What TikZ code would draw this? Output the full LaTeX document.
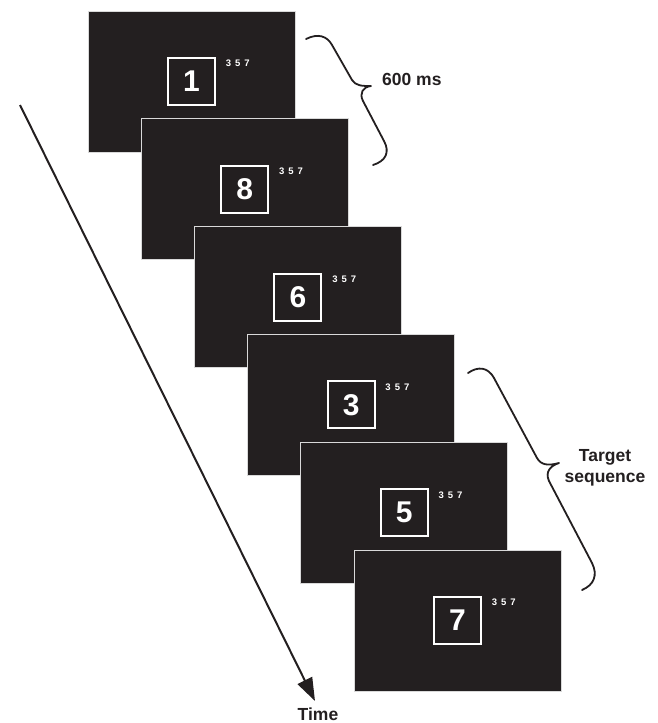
\documentclass[tikz,border=0pt]{standalone}
\usepackage{fontspec}
\setmainfont{Liberation Sans}
\usetikzlibrary{arrows.meta,calc}
\definecolor{ink}{HTML}{231F20}
\begin{document}
\begin{tikzpicture}[x=1pt,y=-1pt,
  screen/.style={fill=ink,draw=black!15,line width=0.8pt,minimum width=207pt,minimum height=141pt,inner sep=0pt},
  numbox/.style={draw=white,line width=2pt,minimum size=47pt,inner sep=0pt,text=white,font=\bfseries\fontsize{30}{30}\selectfont},
  tinytext/.style={text=white,font=\bfseries\fontsize{9.5}{10}\selectfont,inner sep=0pt},
  lbl/.style={text=ink,font=\bfseries\fontsize{17.5}{21}\selectfont,inner sep=0pt},
  bracepath/.style={draw=ink,line width=1.8pt,line cap=round,line join=round}]
\useasboundingbox (0,0) rectangle (657,723);
\foreach \d [count=\i from 0] in {1,8,6,3,5,7}{
  \node[screen] (s\i) at (191.5+53.2*\i, 81.5+107.8*\i) {};
  \node[numbox] (b\i) at (s\i.center) {\d};
  \node[tinytext] (t\i) at ($(s\i.center)+(46.3,-17.8)$) {3\hspace{4pt}5\hspace{4pt}7};
}
% time arrow
\coordinate (tstart) at (20,105);
\coordinate (ttip) at (315,701);
\draw[ink,line width=2pt,-{Triangle[length=23pt,width=16pt]}] (tstart) -- (ttip);
\node[lbl] (time) at (318,714) {Time};
% braces
\draw[bracepath] (306,39) .. controls (318,33) and (327,36) .. (332,45) -- (352,80)
  .. controls (356,86) and (362,86) .. (371,86)
  .. controls (363,87) and (359,93) .. (363,101) -- (384,141)
  .. controls (390,152) and (386,161) .. (373,165);
\draw[bracepath] (468,373) .. controls (478,366) and (488,367) .. (494,378) -- (537,458)
  .. controls (541,465) and (548,466) .. (559,463)
  .. controls (550,466) and (545,472) .. (549,481) -- (592,563)
  .. controls (598,575) and (594,585) .. (582,590);
\node[lbl,anchor=west] (l600) at (382,79) {600 ms};
\node[lbl,align=center] (ltarget) at (605,468) {Target\\sequence};
\end{tikzpicture}
\end{document}
